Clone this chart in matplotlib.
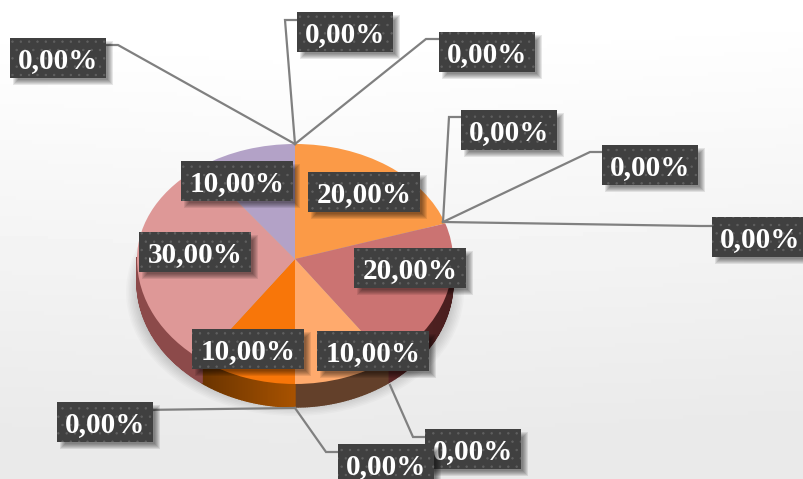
import numpy as np
import matplotlib
matplotlib.use('Agg')
import matplotlib.pyplot as plt
from matplotlib.patches import Rectangle, Ellipse
from matplotlib.colors import to_rgb

# slices clockwise from the top, the empty ones have a leader label only
values = [20, 0, 0, 0, 20, 0, 10, 0, 0, 10, 30, 10, 0, 0, 0]
slice_colors = ['#FB9A47', '#FB9A47', '#FB9A47', '#FB9A47', '#CB7372', '#CB7372', '#FFAA6D',
                '#FFAA6D', '#FFAA6D', '#F87609', '#DE9897', '#B3A2C7', '#B3A2C7', '#B3A2C7', '#B3A2C7']
# left and right colour of the wall under each slice
wall_colors = [('#5a2a2a', '#5a2a2a')] * 4 + [('#5a2626', '#4a1f1f')] * 2 + [('#63402a', '#63402a')] * 3 \
    + [('#6a3400', '#a85200')] + [('#8c4a4a', '#b08080')] + [('#8c4a4a', '#8c4a4a')] * 4

# label box corners in pixels, same order as values
box_left = [308, 461, 602, 712, 354, 425, 317, 338, 57, 192, 139, 181, 10, 297, 439]
box_top = [172, 110, 145, 217, 248, 429, 331, 444, 402, 329, 232, 161, 38, 12, 32]

CX, CY = 295, 259
RX, RY_UP, RY_DOWN = 158, 115, 125
DEPTH = 23

fig = plt.figure(figsize=(8.04, 4.79), dpi=100)

# background and pie wall, in pixels
bg_ax = fig.add_axes([0, 0, 1, 1], zorder=0)
bg_ax.set_xlim(0, 804)
bg_ax.set_ylim(479, 0)
bg_ax.axis('off')

yy, xx = np.mgrid[0:1:120j, 0:1:200j]
shade = 1.0 - 0.085 * np.clip(yy * 1.15 - 0.1 + 0.12 * np.abs(xx - 0.35), 0, 1)
bg_ax.imshow(shade, cmap='gray', vmin=0, vmax=1, extent=(0, 804, 479, 0), aspect='auto', zorder=0)

# soft shadow under the pie
for i in range(14):
    bg_ax.add_patch(Ellipse((CX, 292), 2 * (169 - i * 1.5), 2 * (124 - i * 1.5), color='black',
                            alpha=0.02, lw=0, zorder=1))

theta = np.concatenate([[0], np.cumsum(values)]) / sum(values) * 2 * np.pi


def rim(t):
    s = np.sin(t)
    c = -np.cos(t)
    return CX + RX * s, CY + c * np.where(c > 0, RY_DOWN, RY_UP)


for i in range(len(values)):
    a = max(theta[i], np.pi / 2)
    b = min(theta[i + 1], 3 * np.pi / 2)
    if b <= a:
        continue
    left, right = wall_colors[i]
    left, right = np.array(to_rgb(left)), np.array(to_rgb(right))
    x_a = rim(np.array(theta[i + 1]))[0]
    x_b = rim(np.array(theta[i]))[0]
    steps = np.linspace(a, b, int((b - a) * 90) + 2)
    for t0, t1 in zip(steps[:-1], steps[1:]):
        x0, y0 = rim(np.array(t0))
        x1, y1 = rim(np.array(t1))
        f = np.clip((x0 - min(x_a, x_b)) / max(abs(x_b - x_a), 1), 0, 1)
        col = left + (right - left) * f
        bg_ax.fill([x0, x1, x1, x0], [y0 - 2, y1 - 2, y1 + DEPTH, y0 + DEPTH], facecolor=col, edgecolor=col,
                   lw=1.0, zorder=2)


# the pie sits a little high in its ellipse, so the y scale differs above and below the centre
def to_px(y):
    y = np.asarray(y, dtype=float)
    return np.where(y > 0, y * RY_UP, y * RY_DOWN)


def from_px(p):
    p = np.asarray(p, dtype=float)
    return np.where(p > 0, p / RY_UP, p / RY_DOWN)


pie_ax = fig.add_axes([0, 0, 1, 1], zorder=1)
pie_ax.patch.set_alpha(0)
pie_ax.pie(values, colors=slice_colors, startangle=90, counterclock=False, radius=1)
pie_ax.set_aspect('auto')
pie_ax.set_yscale('function', functions=(to_px, from_px))
pie_ax.set_xlim(-CX / RX, (804 - CX) / RX)
pie_ax.set_ylim(-(479 - CY) / RY_DOWN, CY / RY_UP)
pie_ax.axis('off')

# labels and leader lines, in pixels
top_ax = fig.add_axes([0, 0, 1, 1], zorder=2)
top_ax.patch.set_alpha(0)
top_ax.set_xlim(0, 804)
top_ax.set_ylim(479, 0)
top_ax.axis('off')

leader_lines = [
    ([106, 118, 295], [45, 45, 144]),
    ([297, 285, 295], [20, 20, 144]),
    ([439, 426, 295], [39, 39, 144]),
    ([461, 449, 443], [117, 117, 222]),
    ([602, 590, 443], [152, 152, 222]),
    ([712, 700, 443], [226, 226, 222]),
    ([153, 141, 295], [410, 410, 408]),
    ([338, 326, 295], [452, 452, 408]),
    ([425, 413, 390], [437, 437, 385]),
]
for lx, ly in leader_lines:
    top_ax.plot(lx, ly, color='#808080', lw=1.6, zorder=2, solid_joinstyle='miter')

plt.rcParams['hatch.linewidth'] = 0.5
plt.rcParams['hatch.color'] = '#606060'

for n in range(len(values)):
    label = f"{values[n]:.2f}%".replace('.', ',')
    w = 96 if values[n] == 0 else 112
    z = 5 + n
    for k in range(6):
        top_ax.add_patch(Rectangle((box_left[n] + 8 - k, box_top[n] + 8 - k), w + 2 * k - 6, 40 + 2 * k - 6,
                                   color='black', alpha=0.09, lw=0, zorder=z))
    top_ax.add_patch(Rectangle((box_left[n], box_top[n]), w, 40, facecolor='#404040', edgecolor='#606060',
                               hatch='..', lw=0, zorder=z))
    top_ax.text(box_left[n] + w / 2, box_top[n] + 23, label, color='white', fontsize=21, fontweight='bold',
                family='Liberation Serif', ha='center', va='center', zorder=z, clip_on=True)

fig.savefig('out.png', dpi=100)
